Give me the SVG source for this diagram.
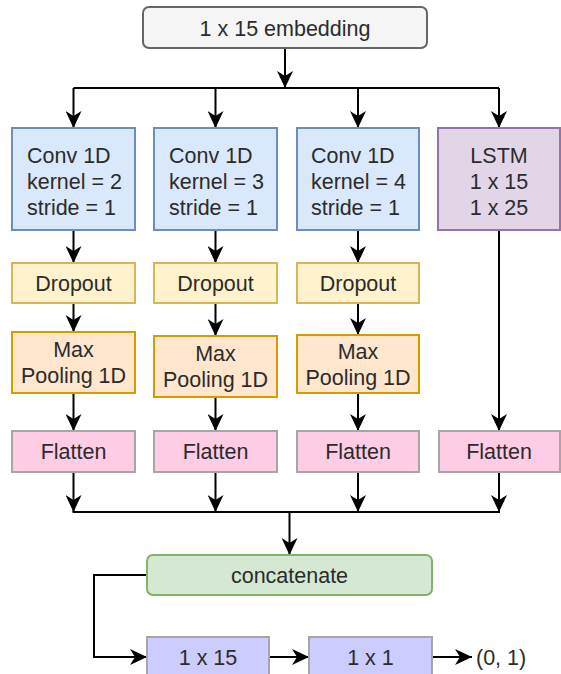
<svg xmlns="http://www.w3.org/2000/svg" width="561" height="674" viewBox="0 0 561 674">
  <defs>
    <style>
      text { font-family: "Liberation Sans", Arial, sans-serif; font-size: 21.5px; fill: #2b2b2b; }
      .c { text-anchor: middle; }
      .s { text-anchor: start; }
      .box { stroke-width: 2; }
      .emb { fill: #f5f5f5; stroke: #666666; }
      .conv { fill: #dae8fc; stroke: #6c8ebf; }
      .drop { fill: #fff2cc; stroke: #d6b656; }
      .pool { fill: #ffe6cc; stroke: #d79b00; }
      .flat { fill: #ffcce6; stroke: #a6a6a6; }
      .lstm { fill: #e1d5e7; stroke: #9673a6; }
      .cat { fill: #d5e8d4; stroke: #82b366; }
      .dense { fill: #ccccff; stroke: #a6a6a6; }
      .edge { fill: none; stroke: #000; stroke-width: 2; }
      .arr { marker-end: url(#head); }
    </style>
    <marker id="head" viewBox="0 0 17 16" refX="17" refY="8" markerWidth="17" markerHeight="16" markerUnits="userSpaceOnUse" orient="auto">
      <path d="M0,0 L17,8 L0,16 L5,8 Z" fill="#000"/>
    </marker>
  </defs>

  <!-- connectors -->
  <g id="connectors">
    <path class="edge arr" d="M285,48 V88"/>
    <path class="edge" d="M73.5,88 H499"/>
    <path class="edge arr" d="M73.5,88 V128"/>
    <path class="edge arr" d="M215.5,88 V128"/>
    <path class="edge arr" d="M358,88 V128"/>
    <path class="edge arr" d="M499,88 V128"/>

    <path class="edge arr" d="M73.5,230 V263"/>
    <path class="edge arr" d="M215.5,230 V263"/>
    <path class="edge arr" d="M358,230 V263"/>

    <path class="edge arr" d="M73.5,303 V332"/>
    <path class="edge arr" d="M215.5,303 V336"/>
    <path class="edge arr" d="M358,303 V335"/>

    <path class="edge arr" d="M73.5,393 V431"/>
    <path class="edge arr" d="M215.5,397 V431"/>
    <path class="edge arr" d="M358,393 V431"/>
    <path class="edge arr" d="M499,230 V431"/>

    <path class="edge arr" d="M73.5,472 V512"/>
    <path class="edge arr" d="M215.5,472 V512"/>
    <path class="edge arr" d="M358,472 V512"/>
    <path class="edge arr" d="M499,472 V512"/>
    <path class="edge" d="M72.5,512 H500"/>
    <path class="edge arr" d="M289.5,512 V555"/>

    <path class="edge arr" d="M147,575 H94 V657 H147"/>
    <path class="edge arr" d="M269,657 H309"/>
    <path class="edge arr" d="M432,657 H472"/>
  </g>

  <g id="embedding">
    <rect class="box emb" x="143" y="7" width="284" height="41" rx="6"/>
    <text class="c" x="285" y="35.5">1 x 15 embedding</text>
  </g>

  <g id="conv-k2">
    <rect class="box conv" x="12" y="128" width="123" height="102"/>
    <text class="s" x="27" y="163">Conv 1D</text>
    <text class="s" x="27" y="189">kernel = 2</text>
    <text class="s" x="27" y="215">stride = 1</text>
  </g>
  <g id="conv-k3">
    <rect class="box conv" x="154" y="128" width="123" height="102"/>
    <text class="s" x="169" y="163">Conv 1D</text>
    <text class="s" x="169" y="189">kernel = 3</text>
    <text class="s" x="169" y="215">stride = 1</text>
  </g>
  <g id="conv-k4">
    <rect class="box conv" x="297" y="128" width="122" height="102"/>
    <text class="s" x="311" y="163">Conv 1D</text>
    <text class="s" x="311" y="189">kernel = 4</text>
    <text class="s" x="311" y="215">stride = 1</text>
  </g>
  <g id="lstm">
    <rect class="box lstm" x="438" y="128" width="122" height="102"/>
    <text class="c" x="499" y="163">LSTM</text>
    <text class="c" x="499" y="189">1 x 15</text>
    <text class="c" x="499" y="215">1 x 25</text>
  </g>

  <g id="dropout-1">
    <rect class="box drop" x="12" y="263" width="123" height="40"/>
    <text class="c" x="73.5" y="290.5">Dropout</text>
  </g>
  <g id="dropout-2">
    <rect class="box drop" x="154" y="263" width="123" height="40"/>
    <text class="c" x="215.5" y="290.5">Dropout</text>
  </g>
  <g id="dropout-3">
    <rect class="box drop" x="297" y="263" width="122" height="40"/>
    <text class="c" x="358" y="290.5">Dropout</text>
  </g>

  <g id="maxpool-1">
    <rect class="box pool" x="12" y="332" width="123" height="61"/>
    <text class="c" x="73.5" y="357">Max</text>
    <text class="c" x="73.5" y="383">Pooling 1D</text>
  </g>
  <g id="maxpool-2">
    <rect class="box pool" x="154" y="336" width="123" height="61"/>
    <text class="c" x="215.5" y="361">Max</text>
    <text class="c" x="215.5" y="387">Pooling 1D</text>
  </g>
  <g id="maxpool-3">
    <rect class="box pool" x="297" y="335" width="122" height="58"/>
    <text class="c" x="358" y="359">Max</text>
    <text class="c" x="358" y="385">Pooling 1D</text>
  </g>

  <g id="flatten-1">
    <rect class="box flat" x="12" y="431" width="123" height="41"/>
    <text class="c" x="73.5" y="459">Flatten</text>
  </g>
  <g id="flatten-2">
    <rect class="box flat" x="154" y="431" width="123" height="41"/>
    <text class="c" x="215.5" y="459">Flatten</text>
  </g>
  <g id="flatten-3">
    <rect class="box flat" x="297" y="431" width="122" height="41"/>
    <text class="c" x="358" y="459">Flatten</text>
  </g>
  <g id="flatten-4">
    <rect class="box flat" x="439" y="431" width="121" height="41"/>
    <text class="c" x="499" y="459">Flatten</text>
  </g>

  <g id="concatenate">
    <rect class="box cat" x="147" y="555" width="285" height="40" rx="6"/>
    <text class="c" x="289.5" y="582.5">concatenate</text>
  </g>

  <g id="dense-15">
    <rect class="box dense" x="147" y="637" width="122" height="41"/>
    <text class="c" x="208" y="665">1 x 15</text>
  </g>
  <g id="dense-1">
    <rect class="box dense" x="309" y="637" width="123" height="41"/>
    <text class="c" x="370.5" y="665">1 x 1</text>
  </g>
  <g id="output">
    <text class="s" x="476" y="665">(0, 1)</text>
  </g>
</svg>
